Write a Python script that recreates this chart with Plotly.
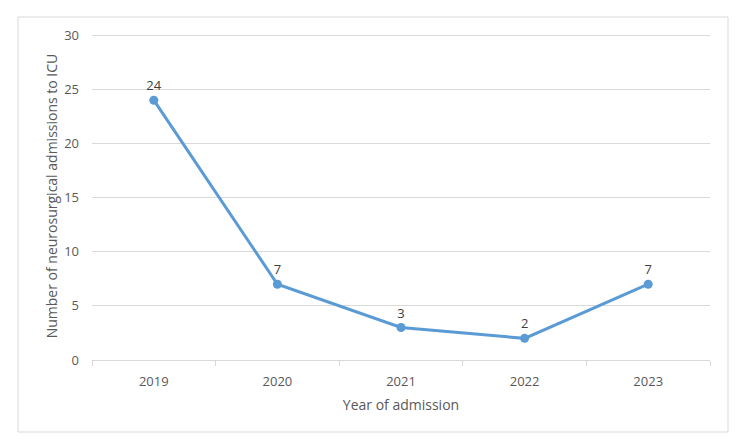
import plotly.graph_objects as go

years = ["2019", "2020", "2021", "2022", "2023"]
admissions = [24, 7, 3, 2, 7]

FONT = "Open Sans, Liberation Sans, sans-serif"
GREY = "#595959"
BLUE = "#5B9BD5"

fig = go.Figure()
fig.add_trace(go.Scatter(
    x=years, y=admissions, mode="lines+markers+text",
    text=[str(v) for v in admissions], textposition="top center",
    textfont=dict(family=FONT, size=13, color="#404040"),
    line=dict(color=BLUE, width=3),
    marker=dict(color=BLUE, size=9),
    cliponaxis=False, showlegend=False, hoverinfo="x+y",
))

W, H = 750, 445
YMAX = 30.3
L, R, T, B = 92, 40, 32, 85
pw = W - L - R
ph = H - T - B

def px2x(p):
    return (p - L) / pw

def py2y(p):
    return (H - B - p) / ph

fig.update_layout(
    width=W, height=H,
    margin=dict(l=L, r=R, t=T, b=B),
    paper_bgcolor="white", plot_bgcolor="white",
    font=dict(family=FONT, size=13, color=GREY),
    xaxis=dict(
        type="category", range=[-0.5, 4.5], automargin=False,
        showgrid=False, showline=True, linecolor="#D9D9D9", linewidth=1,
        ticks="outside", tickson="boundaries", ticklen=5, tickcolor="#D9D9D9",
        ticklabelstandoff=9,
        tickfont=dict(size=13, color=GREY),
        title=dict(text="Year of admission", font=dict(size=14, color=GREY), standoff=11),
    ),
    yaxis=dict(
        range=[0, YMAX], tickvals=[0, 5, 10, 15, 20, 25, 30], automargin=False,
        showgrid=True, gridcolor="#D9D9D9", gridwidth=1,
        zeroline=False, showline=False, ticks="",
        ticklabelstandoff=12,
        tickfont=dict(size=13, color=GREY),
        title=dict(text="Number of neurosurgical admissions to ICU",
                   font=dict(size=14, color=GREY), standoff=3),
    ),
    shapes=[dict(
        type="rect", xref="paper", yref="paper",
        x0=px2x(18), x1=px2x(728), y0=py2y(432), y1=py2y(17),
        line=dict(color="#D9D9D9", width=1), fillcolor="rgba(0,0,0,0)", layer="below",
    )],
)

fig.write_html("out.html", config={"displayModeBar": False},
               post_script="document.body.style.margin='0';")
